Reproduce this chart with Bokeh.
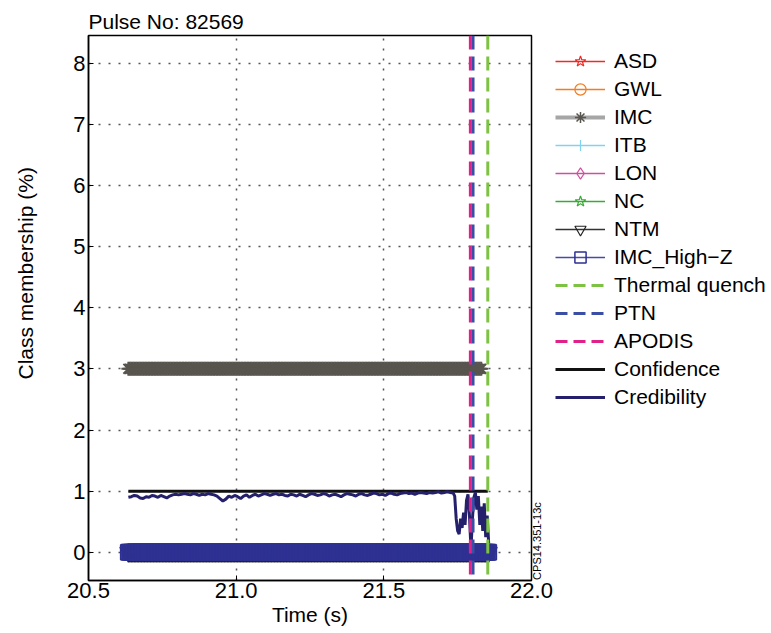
import numpy as np
from bokeh.plotting import figure
from bokeh.layouts import row
from bokeh.models import Range1d, FixedTicker, Legend, LegendItem, Title, LinearAxis
from bokeh.embed import file_html
from bokeh.resources import INLINE

# ---------------- data ----------------
title_text = "Pulse No: 82569"
x_label = "Time (s)"
y_label = "Class membership (%)"
stamp_text = "CPS14.351-13c"

x_lo, x_hi = 20.5, 22.0
y_lo, y_hi = -0.46, 8.45
x_ticks = [20.5, 21.0, 21.5, 22.0]
x_tick_labels = ["20.5", "21.0", "21.5", "22.0"]
y_ticks = [0, 1, 2, 3, 4, 5, 6, 7, 8]
stamp_y = -0.45

class_names = ["ASD", "GWL", "IMC", "ITB", "LON", "NC", "NTM", "IMC_High\u2212Z"]
class_level = [0, 0, 3, 0, 0, 0, 0, 0]
class_start = 20.635
class_end = [21.855, 21.855, 21.83, 21.855, 21.855, 21.855, 21.855, 21.855]
class_step = 0.005

confidence_time = [20.635, 21.852]
confidence_value = [1.0, 1.0]

cred_time_a = np.linspace(20.635, 21.735, 111)
cred_value_a = [
    0.90, 0.91, 0.93, 0.92, 0.89, 0.88, 0.91, 0.90,
    0.93, 0.92, 0.90, 0.93, 0.91, 0.89, 0.92, 0.94, 0.95, 0.94,
    0.95, 0.96, 0.95, 0.94, 0.96, 0.95, 0.93, 0.95, 0.94, 0.96, 0.95, 0.94,
    0.92, 0.88, 0.84, 0.87, 0.92, 0.90, 0.93,
    0.91, 0.88, 0.92, 0.94, 0.90, 0.93, 0.95, 0.92, 0.94, 0.96,
    0.95, 0.93, 0.95, 0.96, 0.94, 0.95, 0.93, 0.92, 0.95,
    0.94, 0.92, 0.95, 0.93, 0.91, 0.94, 0.96, 0.95, 0.93, 0.94,
    0.96, 0.95, 0.92, 0.94, 0.95, 0.93, 0.91, 0.94, 0.96, 0.95,
    0.94, 0.92, 0.95, 0.96, 0.94, 0.93, 0.95, 0.97, 0.96, 0.94,
    0.95, 0.93, 0.96, 0.97, 0.95, 0.94, 0.96, 0.97, 0.98, 0.96,
    0.97, 0.95, 0.97, 0.98, 0.97, 0.96, 0.98, 0.97, 0.98, 0.99,
    0.97, 0.98, 0.99, 0.98, 0.97,
]
cred_time_b = np.linspace(21.740, 21.855, 24)
cred_value_b = [
    0.92, 0.55, 0.35, 0.30, 0.55, 0.40, 0.65, 0.45, 0.85, 0.95, 0.60, 0.05,
    0.55, 0.90, 0.98, 0.70, 0.92, 0.45, 0.75, 0.35, 0.80, 0.25, 0.60, 0.15,
]

event_names = ["Thermal quench", "PTN", "APODIS"]
event_time = [21.852, 21.802, 21.793]

# ---------------- styles ----------------
FONT = "Liberation Sans"
class_line_color = ["#ee2a24", "#f47b20", "#a6a6a6", "#7fd3f0", "#cf4f9f", "#3aaa35", "#333333", "#4a4aa6"]
class_marker_color = ["#ee2a24", "#f47b20", "#58554f", "#7fd3f0", "#cf4f9f", "#3aaa35", "#222222", "#2e3192"]
class_marker = ["star", "circle", "asterisk", "cross", "diamond", "star", "inverted_triangle", "square"]
class_marker_size = [14, 14, 14, 14, 18, 14, 17, 15]
class_line_width = [1.5, 1.5, 4, 1.5, 1.5, 1.5, 1.5, 1.5]
event_color = ["#7dc242", "#3a4ea5", "#e0218a"]
conf_color, cred_color = "#111111", "#25206b"

# ---------------- main plot ----------------
p = figure(frame_width=443, frame_height=545, output_backend="svg", toolbar_location=None,
           x_range=Range1d(x_lo, x_hi), y_range=Range1d(y_lo, y_hi),
           min_border_left=88, min_border_right=30, min_border_top=35, min_border_bottom=53)
p.background_fill_color = "white"
p.border_fill_color = "white"
p.outline_line_color = "black"
p.outline_line_width = 1.5

p.title.text = title_text
p.title.align = "left"
p.title.text_font = FONT
p.title.text_font_size = "21px"
p.title.text_font_style = "normal"
p.title.text_color = "black"
p.title.standoff = 5
p.title.offset = 0

for ax in (p.xaxis[0], p.yaxis[0]):
    ax.axis_line_color = "black"
    ax.axis_line_width = 1.5
    ax.major_tick_in = 5
    ax.major_tick_out = 0
    ax.major_tick_line_color = "black"
    ax.minor_tick_line_color = None
    ax.major_label_text_font = FONT
    ax.major_label_text_font_size = "22px"
    ax.major_label_text_color = "black"
    ax.axis_label_text_font = FONT
    ax.axis_label_text_font_size = "21px"
    ax.axis_label_text_font_style = "normal"
    ax.axis_label_text_color = "black"
p.xaxis.ticker = FixedTicker(ticks=x_ticks)
p.xaxis.major_label_overrides = {t: l for t, l in zip(x_ticks, x_tick_labels)}
p.xaxis.major_label_standoff = 2
p.xaxis.axis_label = x_label
p.xaxis.axis_label_standoff = 2
p.yaxis.ticker = FixedTicker(ticks=y_ticks)
p.yaxis.major_label_standoff = 3

# y label as a side title so that it can be offset along the axis
p.add_layout(Title(text=" ", text_font_size="1px", standoff=30), "left")
p.add_layout(Title(text=y_label, align="left", offset=201, vertical_align="middle", standoff=0,
                   text_font=FONT, text_font_size="21px", text_font_style="normal",
                   text_color="black"), "left")

# figure stamp just right of the frame
stamp_axis = LinearAxis(ticker=FixedTicker(ticks=[stamp_y]),
                        major_label_overrides={stamp_y: stamp_text},
                        major_label_orientation=np.pi / 2,
                        major_label_text_font=FONT, major_label_text_font_size="11px",
                        major_label_text_color="black",
                        major_label_standoff=6, axis_line_color=None,
                        major_tick_line_color=None, minor_tick_line_color=None,
                        major_tick_in=0, major_tick_out=0)
p.add_layout(stamp_axis, "right")

for g in (p.xgrid[0], p.ygrid[0]):
    g.grid_line_color = "#555555"
    g.grid_line_width = 1.5
    g.grid_line_dash = "2 8"

for i, name in enumerate(class_names):
    n = int(round((class_end[i] - class_start) / class_step)) + 1
    t = np.linspace(class_start, class_end[i], n)
    v = [class_level[i]] * n
    p.line(t, v, line_color=class_line_color[i], line_width=class_line_width[i])
    p.scatter(t, v, marker=class_marker[i], size=class_marker_size[i],
              line_color=class_marker_color[i], fill_color=None,
              line_width=2 if class_marker[i] in ("square", "asterisk") else 1.2)

p.line(confidence_time, confidence_value, line_color=conf_color, line_width=3)
cred_t = np.concatenate([cred_time_a, cred_time_b])
cred_v = list(cred_value_a) + list(cred_value_b)
p.line(cred_t, cred_v, line_color=cred_color, line_width=3)

for i, name in enumerate(event_names):
    p.segment(x0=[event_time[i]], y0=[y_hi], x1=[event_time[i]], y1=[y_lo],
              line_color=event_color[i], line_width=3, line_dash="14 7")

# ---------------- legend panel (same styles, no visible data) ----------------
q = figure(width=228, height=633, output_backend="svg", toolbar_location=None,
           x_range=Range1d(0, 1), y_range=Range1d(0, 1),
           x_axis_location=None, y_axis_location=None,
           min_border_left=0, min_border_right=0, min_border_top=5, min_border_bottom=0)
q.grid.visible = False
q.outline_line_color = None
q.background_fill_alpha = 0
q.border_fill_alpha = 0
q.margin = (0, 0, 0, -18)

nan1 = np.array([np.nan])
items = []
for i, name in enumerate(class_names):
    lr = q.line(nan1, nan1, line_color=class_line_color[i], line_width=class_line_width[i])
    sr = q.scatter(nan1, nan1, marker=class_marker[i], size=class_marker_size[i],
                   line_color=class_marker_color[i], fill_color=None,
                   line_width=1.5 if class_marker[i] in ("square", "asterisk") else 1.2)
    items.append(LegendItem(label=name, renderers=[lr, sr]))
for i, name in enumerate(event_names):
    r = q.segment(x0=nan1, y0=nan1, x1=nan1, y1=nan1,
                  line_color=event_color[i], line_width=3, line_dash="12 6")
    items.append(LegendItem(label=name, renderers=[r]))
items.append(LegendItem(label="Confidence",
                        renderers=[q.line(nan1, nan1, line_color=conf_color, line_width=3)]))
items.append(LegendItem(label="Credibility",
                        renderers=[q.line(nan1, nan1, line_color=cred_color, line_width=3)]))

legend = Legend(items=items, location="top_left", label_text_font=FONT,
                label_text_font_size="21px", label_text_color="black",
                glyph_width=50, glyph_height=28, label_height=28, spacing=0,
                padding=12, margin=12, label_standoff=9,
                border_line_color=None, background_fill_alpha=0)
q.add_layout(legend)

layout = row(p, q)
open("out.html", "w").write(file_html(layout, INLINE))
